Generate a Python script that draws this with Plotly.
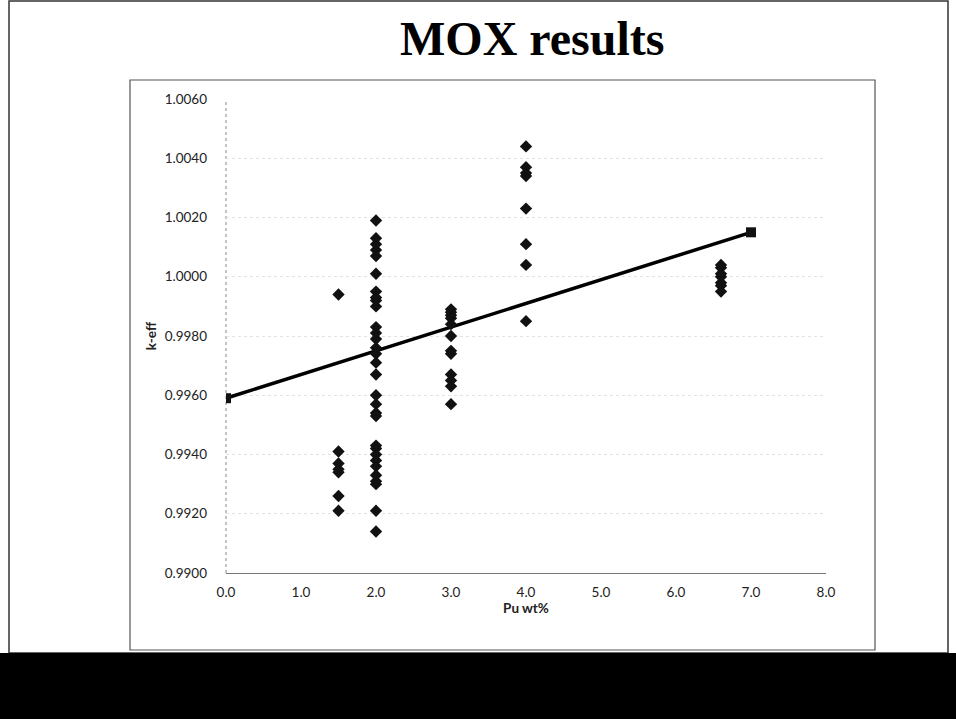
import plotly.graph_objects as go

# ---- data ----
pu_groups = [1.5, 2.0, 3.0, 4.0, 6.6]
keff_15 = [0.9994, 0.9941, 0.9937, 0.9935, 0.9934, 0.9926, 0.9921]
keff_20 = [1.0019, 1.0013, 1.0011, 1.0009, 1.0007, 1.0001, 0.9995, 0.9993, 0.9992,
           0.9990, 0.9983, 0.9981, 0.9979, 0.9976, 0.9974, 0.9971, 0.9967, 0.9960,
           0.9957, 0.9954, 0.9953, 0.9943, 0.9942, 0.9940, 0.9938, 0.9936, 0.9933,
           0.9931, 0.9930, 0.9921, 0.9914]
keff_30 = [0.9989, 0.9988, 0.9987, 0.9986, 0.9984, 0.9980, 0.9975, 0.9974,
           0.9967, 0.9965, 0.9963, 0.9957]
keff_40 = [1.0044, 1.0037, 1.0035, 1.0034, 1.0023, 1.0011, 1.0004, 0.9985]
keff_66 = [1.0004, 1.0003, 1.0001, 1.0000, 0.9998, 0.9997, 0.9995]
fit_x = [0.0, 7.0]
fit_y = [0.9959, 1.0015]

y_ticks = [0.9900, 0.9920, 0.9940, 0.9960, 0.9980, 1.0000, 1.0020, 1.0040, 1.0060]
x_ticks = [0.0, 1.0, 2.0, 3.0, 4.0, 5.0, 6.0, 7.0, 8.0]

title_text = "MOX results"
x_title = "Pu wt%"
y_title = "k-eff"

# ---- build scatter ----
groups = [keff_15, keff_20, keff_30, keff_40, keff_66]
xs, ys = [], []
for px, vals in zip(pu_groups, groups):
    xs += [px] * len(vals)
    ys += vals

fig = go.Figure()
fig.add_trace(go.Scatter(
    x=fit_x, y=fit_y, mode="lines+markers",
    line=dict(color="#000000", width=3.5),
    marker=dict(symbol="square", size=10, color="#111111"),
    showlegend=False, hoverinfo="skip"))
fig.add_trace(go.Scatter(
    x=xs, y=ys, mode="markers",
    marker=dict(symbol="diamond", size=9.5, color="#111111"),
    showlegend=False))

# plot area: x 226..826 px, y 99..573 px
L, R, T, B = 226, 826, 99, 573
W, H = 956, 719
def px_x(p):
    return (p - L) / (R - L)
def px_y(p):
    return (B - p) / (B - T)

shapes = [
    # slide frame
    dict(type="rect", xref="paper", yref="paper",
         x0=px_x(9), x1=px_x(948), y0=px_y(653), y1=px_y(1),
         line=dict(color="#333333", width=1.5), fillcolor="rgba(0,0,0,0)", layer="below"),
    # chart area border
    dict(type="rect", xref="paper", yref="paper",
         x0=px_x(130), x1=px_x(875), y0=px_y(650), y1=px_y(80),
         line=dict(color="#555555", width=1.2), fillcolor="rgba(0,0,0,0)", layer="below"),
    # dotted vertical axis line
    dict(type="line", xref="paper", yref="paper", x0=0, x1=0, y0=0, y1=1,
         line=dict(color="#888888", width=1, dash="dot"), layer="below"),
    # footer bar
    dict(type="rect", xref="paper", yref="paper",
         x0=px_x(0), x1=px_x(W), y0=px_y(H + 2), y1=px_y(653),
         line=dict(width=0), fillcolor="#000000", layer="above"),
]

annotations = [
    dict(text="<b>" + title_text + "</b>", xref="paper", yref="paper",
         x=px_x(532), y=px_y(39), xanchor="center", yanchor="middle", showarrow=False,
         font=dict(family="Liberation Serif", size=48, color="#000000")),
]

fig.update_layout(
    width=W, height=H,
    margin=dict(l=L, r=W - R, t=T, b=H - B, pad=0),
    paper_bgcolor="#ffffff", plot_bgcolor="#ffffff",
    shapes=shapes, annotations=annotations,
    font=dict(family="Lato", size=13.5, color="#222222"),
    xaxis=dict(range=[0, 8], tickvals=x_ticks, tickformat=".1f",
               showgrid=False, zeroline=False,
               showline=True, linecolor="#777777", linewidth=1,
               ticks="", ticklabelstandoff=7,
               title=dict(text="<b>" + x_title + "</b>", standoff=4,
                          font=dict(family="Lato", size=13.5, color="#222222"))),
    yaxis=dict(range=[0.9900, 1.0060], tickvals=y_ticks, tickformat=".4f",
               showgrid=True, gridcolor="#e2e2e2", griddash="dot", gridwidth=1,
               zeroline=False, showline=False,
               ticks="", ticklabelstandoff=18,
               title=dict(text="<b>" + y_title + "</b>", standoff=4,
                          font=dict(family="Lato", size=13.5, color="#222222"))),
)

fig.write_html("out.html")
